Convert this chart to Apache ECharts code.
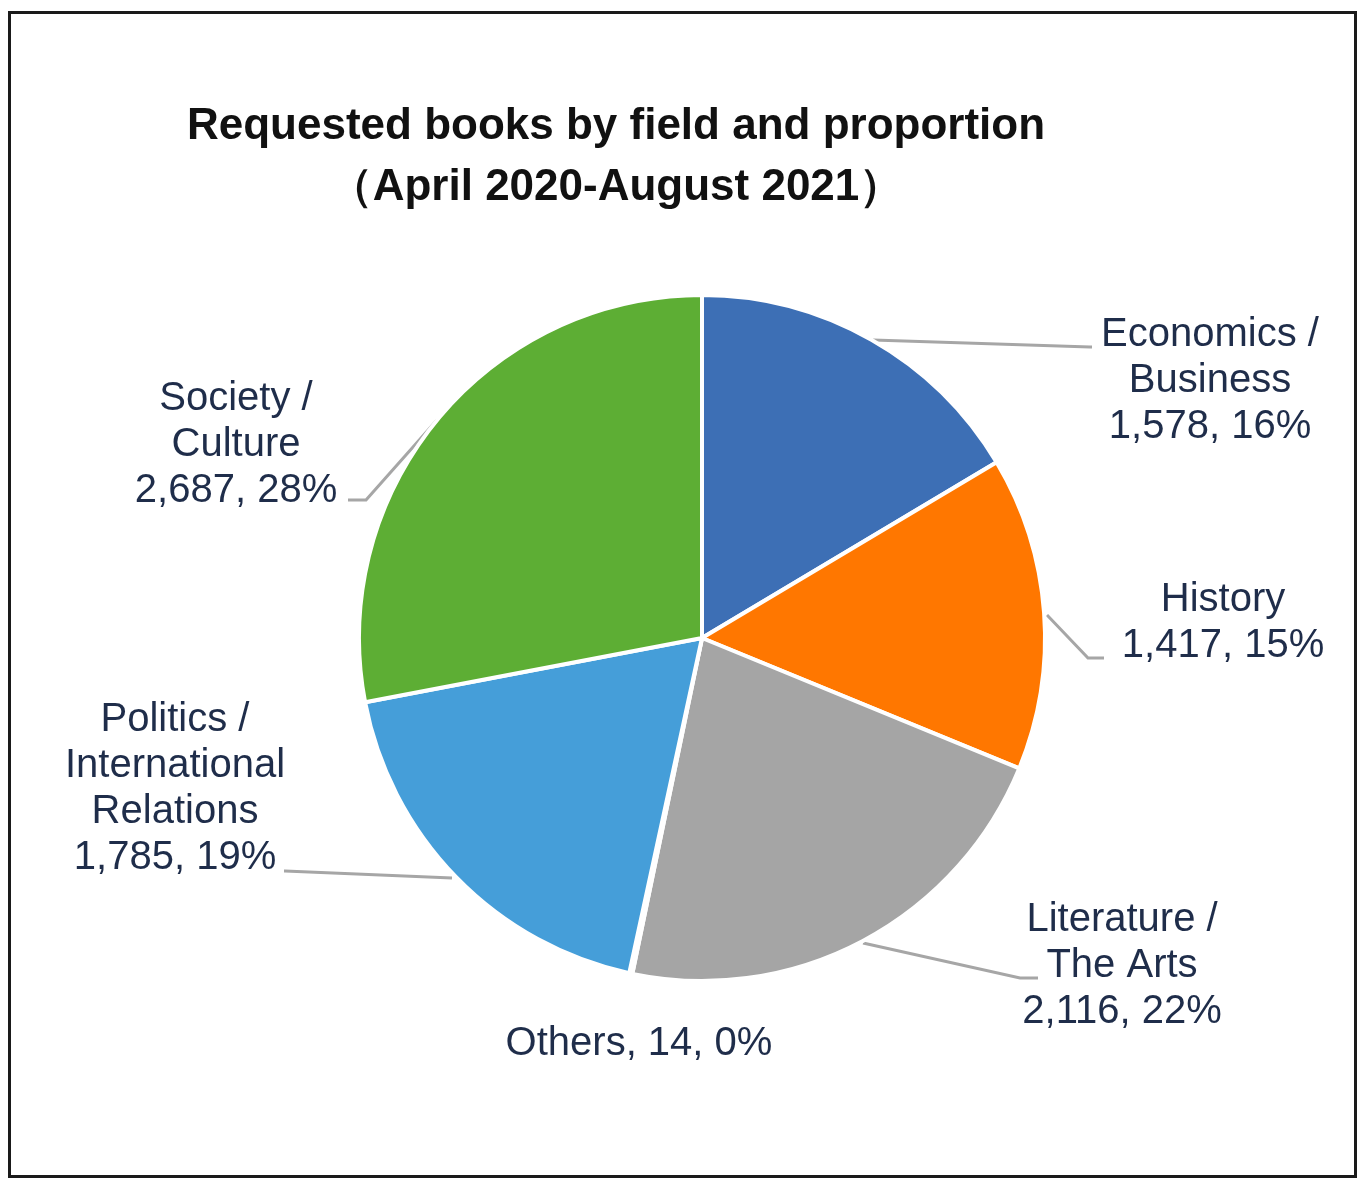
<!DOCTYPE html>
<html>
<head>
<meta charset="utf-8">
<script src="https://cdn.jsdelivr.net/npm/echarts@6/dist/echarts.min.js"></script>
<style>
html,body{margin:0;padding:0;background:#fff;}
#chart{width:1370px;height:1190px;}
</style>
</head>
<body>
<div id="chart"></div>
<script>
// ---- data ----
const categories = ['Economics /\nBusiness', 'History', 'Literature /\nThe Arts', 'Others', 'Politics /\nInternational\nRelations', 'Society /\nCulture'];
const values = [1578, 1417, 2116, 14, 1785, 2687];
const percents = ['16%', '15%', '22%', '0%', '19%', '28%'];
const colors = ['#3d6fb5', '#ff7700', '#a5a5a5', '#a5a5a5', '#459ed9', '#5dae34'];
const titleText = 'Requested books by field and proportion\n（April 2020-August 2021）';

// ---- label layout (positions of label text blocks and leader lines) ----
const labelPos = [
  {x: 1210, y: 381, line: [[873, 340], [1090, 347], [1092, 347]]},
  {x: 1223, y: 623, line: [[1047, 615], [1088, 658], [1104, 658]]},
  {x: 1122, y: 966, line: [[863, 943], [1020, 978], [1038, 978]]},
  {x: 639, y: 1044, line: null},
  {x: 175, y: 789, line: [[452, 878], [285, 871], [284, 871]]},
  {x: 236, y: 445, line: [[437, 420], [366, 500], [348, 500]]}
];

const fmt = v => v.toLocaleString('en-US');

const data = categories.map((c, i) => ({
  name: c,
  value: values[i],
  itemStyle: {color: colors[i]},
  label: {
    formatter: i === 3
      ? 'Others, ' + fmt(values[i]) + ', ' + percents[i]
      : c + '\n' + fmt(values[i]) + ', ' + percents[i]
  },
  labelLine: {show: i !== 3}
}));

const chart = echarts.init(document.getElementById('chart'), null, {renderer: 'canvas'});
chart.setOption({
  backgroundColor: '#ffffff',
  animation: false,
  title: {
    text: titleText,
    left: 611,
    top: 91,
    textAlign: 'center',
    textStyle: {
      fontFamily: 'Liberation Sans, Arial, sans-serif',
      fontSize: 44,
      fontWeight: 'bold',
      color: '#111111',
      lineHeight: 61
    }
  },
  graphic: [{
    type: 'rect',
    shape: {x: 9.5, y: 12.5, width: 1346, height: 1164},
    style: {fill: 'none', stroke: '#1a1a1a', lineWidth: 3},
    silent: true
  }],
  series: [{
    type: 'pie',
    center: [702, 638],
    radius: 343,
    startAngle: 90,
    clockwise: true,
    data: data,
    itemStyle: {borderColor: '#ffffff', borderWidth: 4},
    label: {
      show: true,
      position: 'outside',
      fontFamily: 'Liberation Sans, Arial, sans-serif',
      fontSize: 40,
      lineHeight: 46,
      color: '#1f2d4a',
      align: 'center'
    },
    labelLine: {
      show: true,
      lineStyle: {color: '#a6a6a6', width: 3}
    },
    labelLayout: function (params) {
      const p = labelPos[params.dataIndex];
      const r = {x: p.x, y: p.y, align: 'center', verticalAlign: 'middle'};
      if (p.line) r.labelLinePoints = p.line;
      return r;
    }
  }]
});
</script>
</body>
</html>
